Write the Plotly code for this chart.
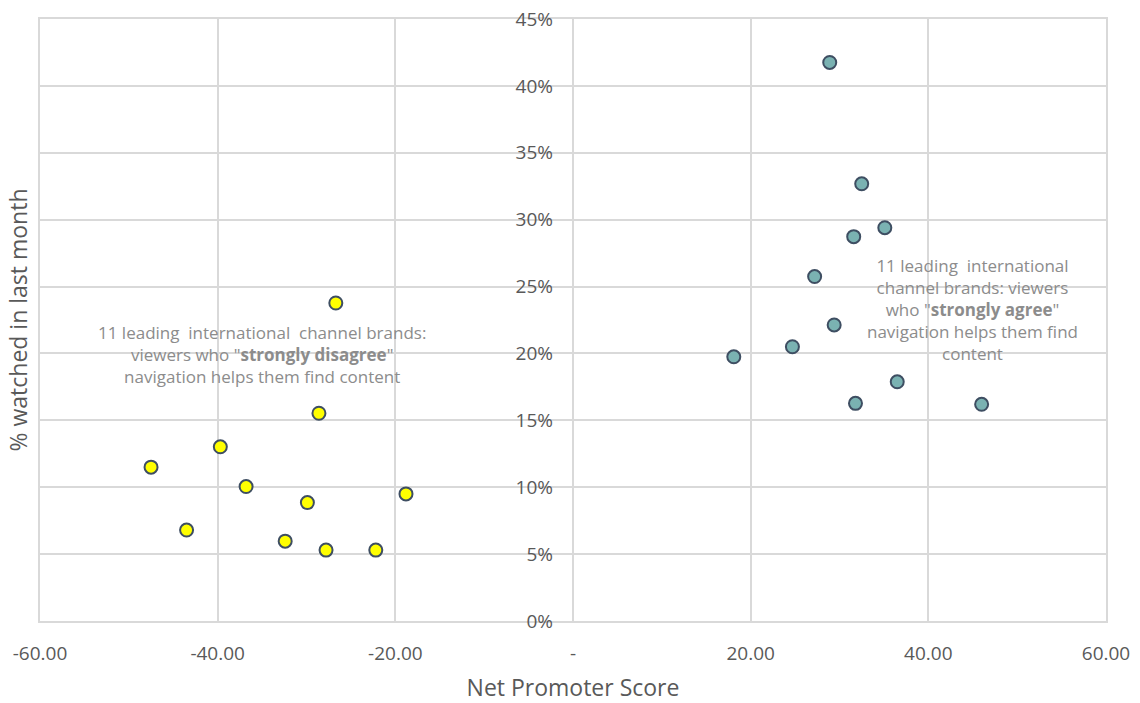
import plotly.graph_objects as go

# Net Promoter Score vs share watched in last month, per channel brand
disagree_nps = [-26.7, -28.6, -39.7, -47.5, -36.8, -29.9, -18.8, -43.5, -32.4, -27.8, -22.2]
disagree_watched = [0.2377, 0.1553, 0.1302, 0.1150, 0.1005, 0.0885, 0.0950, 0.0680, 0.0597, 0.0530, 0.0530]

agree_nps = [28.9, 32.5, 35.1, 31.6, 27.2, 29.4, 24.7, 18.1, 36.5, 31.8, 46.0]
agree_watched = [0.4175, 0.3268, 0.2940, 0.2873, 0.2575, 0.2213, 0.2050, 0.1975, 0.1788, 0.1627, 0.1620]

x_ticks = [-60, -40, -20, 0, 20, 40, 60]
x_tick_text = ["-60.00", "-40.00", "-20.00", "-", "20.00", "40.00", "60.00"]
y_ticks = [0, 0.05, 0.10, 0.15, 0.20, 0.25, 0.30, 0.35, 0.40, 0.45]

FONT = "Open Sans"
GRID = "#D9D9D9"
TEXT = "#595959"
NOTE = "#8C8C8C"
EDGE = "#3E4E62"

fig = go.Figure()

fig.add_trace(go.Scatter(
    x=disagree_nps, y=disagree_watched, mode="markers",
    marker=dict(size=13, color="#FFFF00", line=dict(color=EDGE, width=2)),
    showlegend=False, hoverinfo="skip",
))
fig.add_trace(go.Scatter(
    x=agree_nps, y=agree_watched, mode="markers",
    marker=dict(size=13, color="#7AB2B2", line=dict(color=EDGE, width=2)),
    showlegend=False, hoverinfo="skip",
))
# empty trace that carries the centred value axis
fig.add_trace(go.Scatter(x=[], y=[], yaxis="y2", showlegend=False, hoverinfo="skip"))

fig.add_annotation(
    x=-35.0, y=0.199, xref="x", yref="y", showarrow=False, align="center",
    text='11 leading  international  channel brands:<br>viewers who "<b>strongly disagree</b>"<br>navigation helps them find content',
    font=dict(family=FONT, size=17, color=NOTE),
)
fig.add_annotation(
    x=45.0, y=0.233, xref="x", yref="y", showarrow=False, align="center",
    text='11 leading  international<br>channel brands: viewers<br>who "<b>strongly agree</b>"<br>navigation helps them find<br>content',
    font=dict(family=FONT, size=17, color=NOTE),
)

fig.update_layout(
    width=1140, height=703,
    margin=dict(l=40, r=34, t=19, b=82),
    paper_bgcolor="white", plot_bgcolor="white",
    font=dict(family=FONT, color=TEXT),
    xaxis=dict(
        range=[-60, 60], tickvals=x_ticks, ticktext=x_tick_text,
        showgrid=True, gridcolor=GRID, gridwidth=1.5, zeroline=False,
        showline=True, linecolor=GRID, linewidth=1.5, mirror=True,
        ticks="", ticklabelstandoff=14, automargin=False,
        tickfont=dict(family=FONT, size=19, color=TEXT),
        title=dict(text="Net Promoter Score", font=dict(family=FONT, size=23, color=TEXT), standoff=17),
    ),
    yaxis=dict(
        range=[0, 0.45], tickvals=y_ticks, showticklabels=False,
        showgrid=True, gridcolor=GRID, gridwidth=1.5, zeroline=False,
        showline=True, linecolor=GRID, linewidth=1.5, mirror=True, ticks="",
        automargin=False,
        title=dict(text="% watched in last month", font=dict(family=FONT, size=23, color=TEXT), standoff=4),
    ),
    yaxis2=dict(
        overlaying="y", anchor="free", position=0.5, side="left",
        range=[0, 0.45], tickvals=y_ticks, tickformat=".0%",
        showgrid=False, zeroline=False, showline=False, ticks="",
        ticklabelstandoff=20, automargin=False,
        tickfont=dict(family=FONT, size=19, color=TEXT),
    ),
)

fig.write_html("out.html")
